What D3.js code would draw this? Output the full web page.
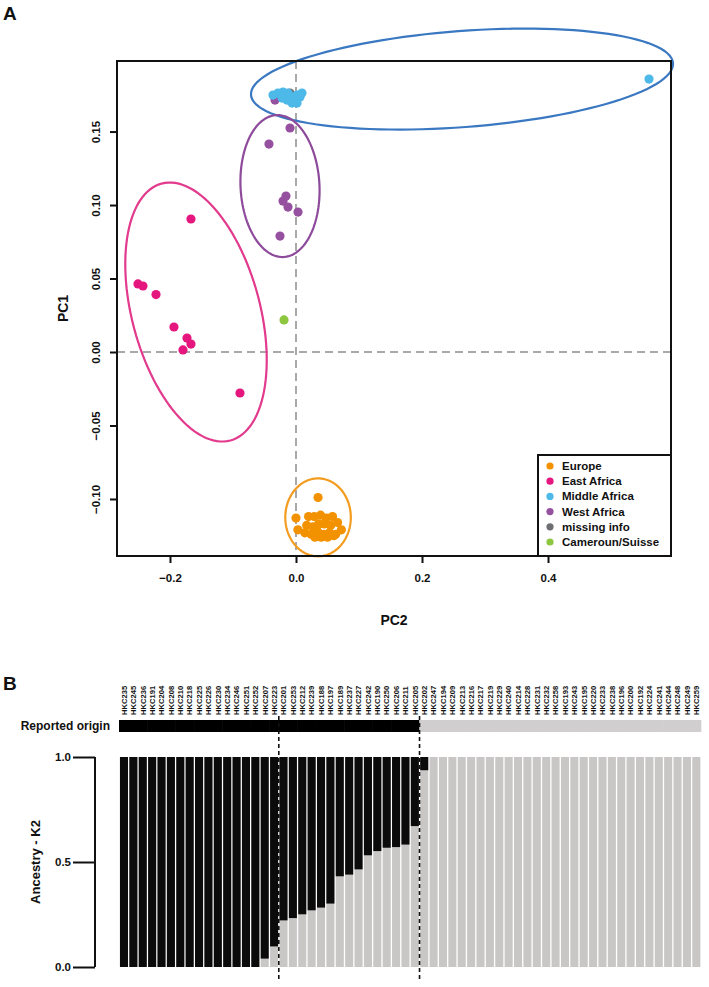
<!DOCTYPE html>
<html><head><meta charset="utf-8">
<script src="https://cdn.jsdelivr.net/npm/d3@7"></script>
<style>
body{margin:0;background:#fff}
svg{display:block}
text{font-family:"Liberation Sans",Arial,sans-serif;font-weight:bold;fill:#111}
</style>
</head><body>
<svg id="c" width="709" height="987"></svg>
<script>
// ---------- Panel A data (PC2, PC1) ----------
const groupNames  = ["Europe","East Africa","Middle Africa","West Africa","missing info","Cameroun/Suisse"];
const groupColors = ["#F39200","#E5177E","#4DB9E9","#95509F","#6D6E71","#8DC63F"];

const europePC2 = [0.035,0.000,0.003,0.020,0.029,0.039,0.048,0.058,0.017,0.027,0.036,0.045,0.055,0.066,0.014,0.024,0.034,0.044,0.053,0.063,0.072,0.030,0.050,0.040,0.060];
const europePC1 = [-0.099,-0.113,-0.121,-0.112,-0.112,-0.111,-0.113,-0.112,-0.118,-0.119,-0.117,-0.117,-0.118,-0.116,-0.123,-0.124,-0.122,-0.124,-0.123,-0.124,-0.121,-0.126,-0.126,-0.126,-0.125];

const eastPC2 = [-0.1667,-0.2508,-0.2429,-0.2222,-0.1937,-0.1730,-0.1667,-0.1794,-0.0889];
const eastPC1 = [0.0905,0.0463,0.0449,0.0391,0.0170,0.0095,0.0054,0.0014,-0.0279];

const middlePC2 = [-0.0365,-0.0286,-0.0206,-0.0127,-0.0063,0.0016,0.0063,0.0095,-0.0143,-0.0063,0.0016,-0.0222,0.5603];
const middlePC1 = [0.1748,0.1762,0.1769,0.1762,0.1735,0.1748,0.1735,0.1762,0.1714,0.1694,0.1694,0.1728,0.1857];

const westPC2 = [-0.0333,-0.0095,-0.0429,-0.0159,-0.0206,-0.0127,0.0032,-0.0254];
const westPC1 = [0.1714,0.1524,0.1415,0.1061,0.1027,0.0986,0.0952,0.0789];

const missingPC2 = [-0.0095];
const missingPC1 = [0.1762];

const camPC2 = [-0.019];
const camPC1 = [0.0218];

// confidence ellipses: group, centre (PC2, PC1), conjugate semi-axes u, v (PC2, PC1)
const ellipseGroups = ["Middle Africa","West Africa","East Africa","Europe"];
const ellipseCenter = [[0.2635,0.1857],[-0.0254,0.1129],[-0.1587,0.0272],[0.035,-0.1125]];
const ellipseU      = [[0.3349,0.01088],[-0.00397,0.0483],[0.0546,-0.0874],[0.052,0]];
const ellipseV      = [[0.00603,-0.03259],[0.0627,0],[0.0981,0.0113],[0,0.0265]];
const ellipseColors = ["#3A78C2","#8E4A9B","#E23A8D","#F39C1F"];

const xTicksA = [-0.2,0.0,0.2,0.4];
const yTicksA = [-0.10,-0.05,0.00,0.05,0.10,0.15];

// ---------- Panel B data ----------
const samples = ["HKC235","HKC245","HKC236","HKC191","HKC204","HKC208","HKC210","HKC218","HKC225","HKC226","HKC230","HKC234","HKC246","HKC251","HKC252","HKC207","HKC223","HKC201","HKC253","HKC212","HKC239","HKC188","HKC197","HKC189","HKC237","HKC227","HKC242","HKC190","HKC250","HKC206","HKC211","HKC205","HKC202","HKC247","HKC194","HKC209","HKC213","HKC216","HKC217","HKC219","HKC229","HKC240","HKC214","HKC228","HKC231","HKC232","HKC258","HKC193","HKC243","HKC195","HKC220","HKC233","HKC238","HKC196","HKC200","HKC192","HKC224","HKC241","HKC244","HKC248","HKC249","HKC259"];
// proportion of the black (African) component
const ancestryBlack = [1,1,1,1,1,1,1,1,1,1,1,1,1,1,1,0.960,0.902,0.778,0.767,0.749,0.730,0.717,0.698,0.568,0.560,0.535,0.468,0.448,0.432,0.429,0.417,0.329,0.063,0,0,0,0,0,0,0,0,0,0,0,0,0,0,0,0,0,0,0,0,0,0,0,0,0,0,0,0,0];
// reported origin: 1 = Africa (black), 0 = Europe (grey)
const reportedOrigin = [1,1,1,1,1,1,1,1,1,1,1,1,1,1,1,1,1,1,1,1,1,1,1,1,1,1,1,1,1,1,1,1,0,0,0,0,0,0,0,0,0,0,0,0,0,0,0,0,0,0,0,0,0,0,0,0,0,0,0,0,0,0];
const dividerAfter = ["HKC223","HKC205"];
const yTicksB = [0.0,0.5,1.0];

// ---------- drawing ----------
const svg = d3.select("#c");

// Panel A
const xA = d3.scaleLinear().domain([-0.2841,0.5952]).range([117,671]);
const yA = d3.scaleLinear().domain([-0.1388,0.1980]).range([556,61]);

svg.append("text").attr("x",3).attr("y",20).style("font-size","19px").text("A");

const gA = svg.append("g");
gA.append("line").attr("x1",xA(0)).attr("x2",xA(0)).attr("y1",yA.range()[1]).attr("y2",yA.range()[0])
  .attr("stroke","#A9A9A9").attr("stroke-width",2).attr("stroke-dasharray","8,5");
gA.append("line").attr("y1",yA(0)).attr("y2",yA(0)).attr("x1",xA.range()[0]).attr("x2",xA.range()[1])
  .attr("stroke","#A9A9A9").attr("stroke-width",2).attr("stroke-dasharray","8,5");

function groupPoints(pc2, pc1){ return pc2.map((v,i)=>({x:v,y:pc1[i]})); }
const drawOrder = [
  ["Europe", europePC2, europePC1],
  ["East Africa", eastPC2, eastPC1],
  ["missing info", missingPC2, missingPC1],
  ["West Africa", westPC2, westPC1],
  ["Middle Africa", middlePC2, middlePC1],
  ["Cameroun/Suisse", camPC2, camPC1]
];
const colorOf = d3.scaleOrdinal().domain(groupNames).range(groupColors);
drawOrder.forEach(([name,p2,p1])=>{
  gA.append("g").selectAll("circle").data(groupPoints(p2,p1)).join("circle")
    .attr("cx",d=>xA(d.x)).attr("cy",d=>yA(d.y)).attr("r",4.6).attr("fill",colorOf(name));
});

const tSteps = d3.range(0,361,3).map(d=>d*Math.PI/180);
const line = d3.line().x(d=>xA(d[0])).y(d=>yA(d[1])).curve(d3.curveLinearClosed);
ellipseGroups.forEach((g,i)=>{
  const c=ellipseCenter[i], u=ellipseU[i], v=ellipseV[i];
  const pts = tSteps.map(t=>[c[0]+u[0]*Math.cos(t)+v[0]*Math.sin(t), c[1]+u[1]*Math.cos(t)+v[1]*Math.sin(t)]);
  gA.append("path").attr("d",line(pts)).attr("fill","none").attr("stroke",ellipseColors[i]).attr("stroke-width",2.2);
});

gA.append("rect").attr("x",xA.range()[0]).attr("y",yA.range()[1])
  .attr("width",xA.range()[1]-xA.range()[0]).attr("height",yA.range()[0]-yA.range()[1])
  .attr("fill","none").attr("stroke","#111").attr("stroke-width",2);

const axL = gA.append("g").attr("transform",`translate(${xA.range()[0]},0)`)
  .call(d3.axisLeft(yA).tickValues(yTicksA).tickSize(7).tickFormat(d3.format(".2f")));
axL.select(".domain").remove();
axL.selectAll(".tick line").attr("stroke","#111").attr("stroke-width",2);
axL.selectAll(".tick text").attr("x",0).attr("dy",0)
  .attr("transform","translate(-17,0) rotate(-90)").attr("text-anchor","middle")
  .style("font-size","11.5px").style("font-family","Liberation Sans, Arial").style("font-weight","bold").attr("fill","#111")
  .text(d=>d3.format(".2f")(d).replace("-","\u2212"));

const axB = gA.append("g").attr("transform",`translate(0,${yA.range()[0]})`)
  .call(d3.axisBottom(xA).tickValues(xTicksA).tickSize(7).tickFormat(d3.format(".1f")));
axB.select(".domain").remove();
axB.selectAll(".tick line").attr("stroke","#111").attr("stroke-width",2);
axB.selectAll(".tick text").attr("y",18).style("font-size","11.5px").style("font-family","Liberation Sans, Arial")
  .style("font-weight","bold").attr("fill","#111").text(d=>d3.format(".1f")(d).replace("-","\u2212"));

svg.append("text").attr("transform",`translate(68,${(yA.range()[0]+yA.range()[1])/2}) rotate(-90)`)
  .attr("text-anchor","middle").style("font-size","14px").text("PC1");
svg.append("text").attr("x",(xA.range()[0]+xA.range()[1])/2).attr("y",625)
  .attr("text-anchor","middle").style("font-size","14px").text("PC2");

const legH = 101, legW = 133;
const legX = xA.range()[1]-legW, legY = yA.range()[0]-legH;
const lg = gA.append("g");
lg.append("rect").attr("x",legX).attr("y",legY).attr("width",legW).attr("height",legH)
  .attr("fill","#fff").attr("stroke","#111").attr("stroke-width",2);
groupNames.forEach((n,i)=>{
  const yy = legY+11+i*15.2;
  lg.append("circle").attr("cx",legX+12).attr("cy",yy).attr("r",3.6).attr("fill",groupColors[i]);
  lg.append("text").attr("x",legX+24).attr("y",yy+4).style("font-size","11.5px").text(n);
});

// Panel B
svg.append("text").attr("x",3).attr("y",690).style("font-size","19px").text("B");

const xB = d3.scaleBand().domain(samples).range([119.3,701]).paddingInner(0.14).paddingOuter(0.07);
const yB = d3.scaleLinear().domain([0,1]).range([967,757]);
const gB = svg.append("g");

gB.selectAll("text.lab").data(samples).join("text").attr("class","lab")
  .attr("transform",d=>`translate(${xB(d)+xB.bandwidth()/2+2.8},715) rotate(-90)`)
  .style("font-size","7.6px").text(d=>d);

gB.selectAll("rect.orig").data(samples).join("rect").attr("class","orig")
  .attr("x",d=>xB(d)-xB.step()*xB.paddingInner()/2-0.3).attr("width",xB.step()+0.6)
  .attr("y",720).attr("height",12)
  .attr("fill",(d,i)=>reportedOrigin[i]?"#000":"#D0CECE");
svg.append("text").attr("x",110).attr("y",730).attr("text-anchor","end").style("font-size","12px").text("Reported origin");

samples.forEach((s,i)=>{
  gB.append("rect").attr("x",xB(s)).attr("width",xB.bandwidth())
    .attr("y",yB(1)).attr("height",yB(0)-yB(1)).attr("fill","#C9C6C6");
  gB.append("rect").attr("x",xB(s)).attr("width",xB.bandwidth())
    .attr("y",yB(1)).attr("height",yB(1-ancestryBlack[i])-yB(1)).attr("fill","#0B0B0B");
});

const axY = gB.append("g").attr("transform","translate(95,0)")
  .call(d3.axisLeft(yB).tickValues(yTicksB).tickSize(22).tickPadding(2).tickFormat(d3.format(".1f")));
axY.select(".domain").attr("stroke","#111").attr("stroke-width",2).attr("d",`M0,${yB(1)}V${yB(0)}`);
axY.selectAll(".tick line").attr("stroke","#111").attr("stroke-width",2);
axY.selectAll(".tick text").style("font-size","11.5px").style("font-family","Liberation Sans, Arial").style("font-weight","bold").attr("fill","#111");
svg.append("text").attr("transform",`translate(40,${(yB(0)+yB(1))/2}) rotate(-90)`)
  .attr("text-anchor","middle").style("font-size","13px").text("Ancestry - K2");

dividerAfter.forEach(s=>{
  const xx = xB(s)+xB.bandwidth()+xB.step()*xB.paddingInner()/2;
  gB.append("line").attr("x1",xx).attr("x2",xx).attr("y1",716).attr("y2",982)
    .attr("stroke","#111").attr("stroke-width",1.6).attr("stroke-dasharray","4,3");
});
</script>
</body></html>
